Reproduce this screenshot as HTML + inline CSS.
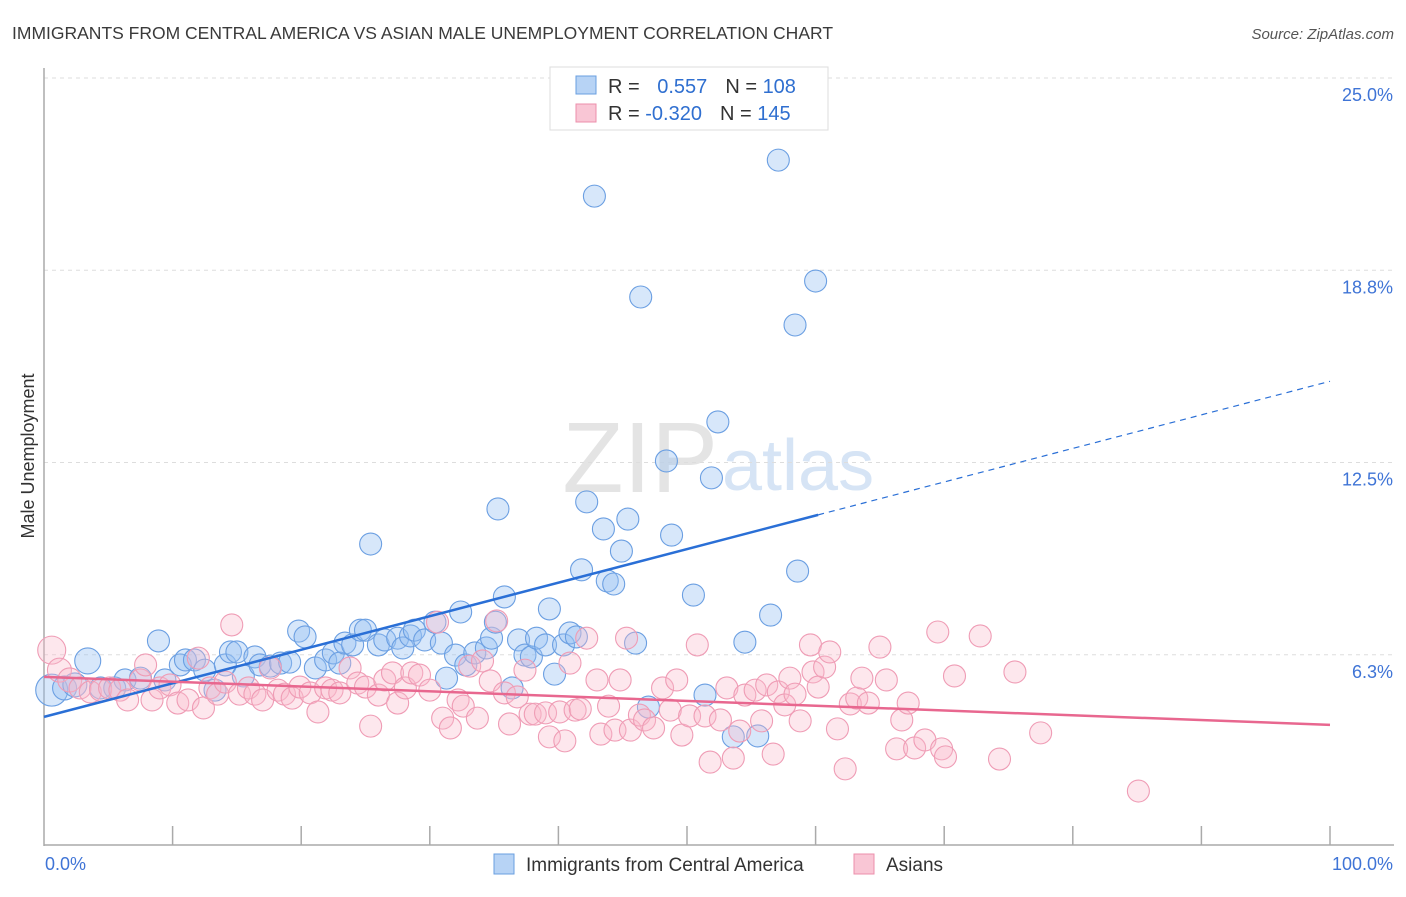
<!DOCTYPE html>
<html><head><meta charset="utf-8"><style>
body{margin:0;background:#fff;font-family:"Liberation Sans",sans-serif}
svg text{font-family:"Liberation Sans",sans-serif}
</style></head><body>
<svg id="chart" width="1406" height="892" xmlns="http://www.w3.org/2000/svg">
<text x="12" y="39" font-size="17.5" fill="#3a3a3a">IMMIGRANTS FROM CENTRAL AMERICA VS ASIAN MALE UNEMPLOYMENT CORRELATION CHART</text>
<text x="1394" y="39" font-size="15" fill="#555" font-style="italic" text-anchor="end">Source: ZipAtlas.com</text>
<text x="718" y="492" font-size="100" fill="#e4e4e4" text-anchor="end" font-family="Liberation Serif">ZIP</text>
<text x="722" y="490" font-size="72" fill="#d6e4f5">atlas</text>
<g id="grid"></g>
<g id="axes"></g>
<g id="pts"></g>
<g id="lines"></g>
<text transform="translate(34,456) rotate(-90)" font-size="18" fill="#333" text-anchor="middle">Male Unemployment</text>
<g>
<rect x="550" y="67" width="278" height="63" fill="#fff" stroke="#ddd"/>
<rect x="576" y="76" width="20" height="18" fill="#b7d3f5" stroke="#6a9fe0"/>
<rect x="576" y="104" width="20" height="18" fill="#f9c6d5" stroke="#ec8fab"/>
<text x="608" y="93" font-size="20" fill="#333">R = <tspan fill="#2f6fd0" dx="12">0.557</tspan><tspan dx="18" fill="#333">N = </tspan><tspan fill="#2f6fd0">108</tspan></text>
<text x="608" y="120" font-size="20" fill="#333">R = <tspan fill="#2f6fd0">-0.320</tspan><tspan dx="18" fill="#333">N = </tspan><tspan fill="#2f6fd0">145</tspan></text>
</g>
<g>
<rect x="494" y="854" width="20" height="20" fill="#b7d3f5" stroke="#6a9fe0"/>
<text x="526" y="871" font-size="19" fill="#333">Immigrants from Central America</text>
<rect x="854" y="854" width="20" height="20" fill="#f9c6d5" stroke="#ec8fab"/>
<text x="886" y="871" font-size="19" fill="#333">Asians</text>
</g>
</svg>
<script>
const yTicks=[6.25,12.5,18.75,25];
const yTickLabels=["6.3%","12.5%","18.8%","25.0%"];
const xTickLabels=["0.0%","100.0%"];
const blueX=[0.6,1.6,3.4,2.4,4.4,5.5,6.3,7.5,8.9,9.4,10.6,11.0,11.7,12.5,13.3,14.1,14.5,15.0,15.5,16.4,16.8,17.6,18.4,19.1,19.8,20.3,21.1,21.9,22.5,23.0,23.4,24.0,24.6,25.0,25.4,26.0,26.5,27.5,27.9,28.5,28.8,29.6,30.4,30.9,31.3,32.0,32.4,32.8,33.5,34.4,34.8,35.1,35.3,35.8,36.4,36.9,37.4,37.9,38.3,39.0,39.3,39.7,40.4,40.9,41.4,41.8,42.2,42.8,43.5,43.8,44.3,44.9,45.4,46.0,46.4,47.0,48.4,48.8,50.5,51.4,51.9,52.4,53.6,54.5,55.5,56.5,57.1,58.4,58.6,60.0];
const blueY=[5.10,5.17,6.05,5.27,5.17,5.17,5.43,5.49,6.70,5.43,5.92,6.08,6.08,5.75,5.10,5.92,6.34,6.34,5.56,6.18,5.92,5.88,5.98,6.01,7.02,6.83,5.82,6.08,6.31,5.98,6.63,6.57,7.05,7.05,9.85,6.57,6.73,6.79,6.47,6.86,7.05,6.73,7.31,6.63,5.49,6.24,7.64,5.92,6.31,6.47,6.79,7.31,10.99,8.13,5.17,6.73,6.24,6.18,6.79,6.57,7.74,5.62,6.57,6.96,6.83,9.01,11.22,21.16,10.34,8.65,8.55,9.62,10.66,6.63,17.88,4.55,12.55,10.14,8.19,4.94,12.0,13.82,3.58,6.66,3.61,7.54,22.33,16.97,8.97,18.40];
const blueR=[16,12,13,12,11,11,11,11,11,11,11,11,11,11,11,11,11,11,11,11,11,11,11,11,11,11,11,11,11,11,11,11,11,11,11,11,11,11,11,11,11,11,11,11,11,11,11,11,11,11,11,11,11,11,11,11,11,11,11,11,11,11,11,11,11,11,11,11,11,11,11,11,11,11,11,11,11,11,11,11,11,11,11,11,11,11,11,11,11,11];
const pinkX=[0.6,1.2,2.0,2.8,3.6,4.4,5.1,5.9,6.5,7.5,7.9,8.4,9.0,9.8,10.4,11.2,12.0,12.4,12.9,13.5,14.1,14.6,15.2,15.9,16.4,17.0,17.6,18.2,18.7,19.3,19.9,20.7,21.3,21.9,22.4,23.0,23.8,24.4,25.0,25.4,26.0,26.5,27.1,27.5,28.1,28.6,29.2,30.0,30.6,31.0,31.6,32.2,32.6,33.1,33.7,34.1,34.7,35.2,35.8,36.2,36.8,37.4,37.8,38.2,39.0,39.3,40.1,40.5,40.9,41.3,41.7,42.2,43.0,43.3,43.9,44.4,44.8,45.3,45.6,46.3,46.7,47.4,48.1,48.7,49.2,49.6,50.2,50.8,51.4,51.8,52.6,53.1,53.6,54.1,54.5,55.3,55.8,56.2,56.7,57.1,57.6,58.0,58.4,58.8,59.6,59.8,60.2,60.7,61.1,61.7,62.3,62.7,63.2,63.6,64.1,65.0,65.5,66.3,66.7,67.2,67.7,68.5,69.5,69.8,70.1,70.8,72.8,74.3,75.5,77.5,85.1];
const pinkY=[6.40,5.75,5.43,5.17,5.04,5.10,5.17,5.10,4.78,5.43,5.92,4.78,5.17,5.27,4.68,4.78,6.14,4.52,5.17,4.97,5.36,7.22,4.97,5.17,4.97,4.78,5.82,5.10,4.97,4.84,5.20,5.01,4.39,5.17,5.10,5.01,5.82,5.33,5.20,3.93,4.94,5.43,5.66,4.68,5.17,5.66,5.59,5.10,7.31,4.19,3.87,4.78,4.58,5.88,4.19,6.05,5.40,7.35,5.01,4.00,4.88,5.75,4.32,4.32,4.36,3.58,4.39,3.45,5.98,4.45,4.49,6.79,5.43,3.67,4.58,3.80,5.43,6.79,3.80,4.29,4.13,3.87,5.17,4.45,5.43,3.64,4.26,6.57,4.26,2.76,4.13,5.17,2.89,3.77,4.94,5.10,4.10,5.27,3.02,5.04,4.62,5.49,4.97,4.10,6.57,5.69,5.20,5.85,6.34,3.84,2.54,4.65,4.84,5.49,4.68,6.50,5.43,3.19,4.13,4.68,3.22,3.48,6.99,3.19,2.93,5.56,6.86,2.86,5.69,3.71,1.82];
const pinkR=[14,12,12,11,11,11,11,11,11,11,11,11,11,11,11,11,11,11,11,11,11,11,11,11,11,11,11,11,11,11,11,11,11,11,11,11,11,11,11,11,11,11,11,11,11,11,11,11,11,11,11,11,11,11,11,11,11,11,11,11,11,11,11,11,11,11,11,11,11,11,11,11,11,11,11,11,11,11,11,11,11,11,11,11,11,11,11,11,11,11,11,11,11,11,11,11,11,11,11,11,11,11,11,11,11,11,11,11,11,11,11,11,11,11,11,11,11,11,11,11,11,11,11,11,11,11,11,11,11,11,11,11,11,11,11];
const blueTrend=[4.23,15.14], blueSolidEnd=60.2;
const pinkTrend=[5.53,3.97];

const NS="http://www.w3.org/2000/svg";
const X0=44,X1=1330,Y0=847,PY=30.76;
const sx=v=>X0+v/100*(X1-X0);
const sy=v=>Y0-v*PY;
function mk(tag,attrs,parent){const e=document.createElementNS(NS,tag);for(const k in attrs)e.setAttribute(k,attrs[k]);parent.appendChild(e);return e;}
const grid=document.getElementById('grid'),axes=document.getElementById('axes'),pts=document.getElementById('pts'),lines=document.getElementById('lines');
yTicks.forEach((t,i)=>{
 const g=mk('line',{x1:X0,x2:1394,y1:sy(t),y2:sy(t),stroke:'#ddd','stroke-dasharray':'4,4'},grid);
 
 
 const l=mk('text',{x:1393,y:sy(t)+23,'font-size':18,fill:'#3f74d6','text-anchor':'end'},axes);
 l.textContent=yTickLabels[i];
 
 
});
const yl=mk('line',{x1:X0,x2:X0,y1:68,y2:Y0-1,stroke:'#aaa','stroke-width':1.5},axes);


const xl=mk('line',{x1:X0,x2:1394,y1:Y0-2,y2:Y0-2,stroke:'#aaa','stroke-width':1.5},axes);


for(let i=1;i<=10;i++){
 const t=mk('line',{x1:sx(i*10),x2:sx(i*10),y1:826,y2:Y0-2,stroke:'#aaa','stroke-width':1.5},axes);
 
 
}
[[0,'start',45],[100,'end',1393]].forEach((d,i)=>{
 const l=mk('text',{x:d[2],y:870,'font-size':18,fill:'#3f74d6','text-anchor':d[1]},axes);
 l.textContent=xTickLabels[i];
 
 
});
blueX.forEach((x,i)=>{
 const c=mk('circle',{cx:sx(x),cy:sy(blueY[i]),r:blueR[i],fill:'rgba(150,192,242,0.38)',stroke:'#6b9fe2','stroke-width':1.1},pts);
 
 
});
pinkX.forEach((x,i)=>{
 const c=mk('circle',{cx:sx(x),cy:sy(pinkY[i]),r:pinkR[i],fill:'rgba(248,185,204,0.35)',stroke:'#ef9cb5','stroke-width':1.1},pts);
 
 
});
const by=v=>blueTrend[0]+(blueTrend[1]-blueTrend[0])*v/100;
const b1=mk('line',{x1:sx(0),y1:sy(by(0)),x2:sx(blueSolidEnd),y2:sy(by(blueSolidEnd)),stroke:'#2a6fd6','stroke-width':2.5},lines);


const b2=mk('line',{x1:sx(blueSolidEnd),y1:sy(by(blueSolidEnd)),x2:sx(100),y2:sy(by(100)),stroke:'#2a6fd6','stroke-width':1.2,'stroke-dasharray':'6,5'},lines);


const p1=mk('line',{x1:sx(0),y1:sy(pinkTrend[0]),x2:sx(100),y2:sy(pinkTrend[1]),stroke:'#e8678f','stroke-width':2.5},lines);


</script>
</body></html>
